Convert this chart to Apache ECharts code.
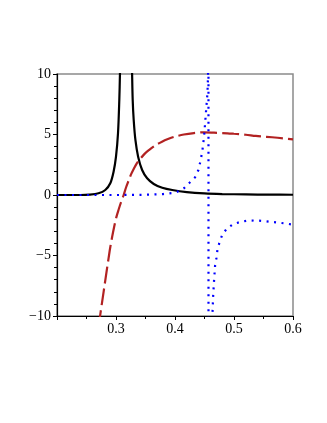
<!DOCTYPE html>
<html><head><meta charset="utf-8">
<script src="https://cdn.jsdelivr.net/npm/echarts@6/dist/echarts.min.js"></script>
<style>html,body{margin:0;padding:0;background:#fff}#c{width:327px;height:423px}</style>
</head><body><div id="c"></div>
<script>
const xTicks = [0.2, 0.3, 0.4, 0.5, 0.6];
const yTicks = [-10, -5, 0, 5, 10];

const blackX = [0.20, 0.24, 0.255, 0.2704, 0.2818, 0.2903, 0.2959, 0.300, 0.3034, 0.3056, 0.3067, 0.309, 0.317, 0.325, 0.3273, 0.3283, 0.330, 0.3329, 0.3375, 0.3443, 0.3528, 0.364, 0.3784, 0.3954, 0.42, 0.45, 0.48, 0.52, 0.56, 0.60];
const blackY = [0, 0, 0.03, 0.14, 0.41, 0.97, 1.93, 3.17, 5.1, 7.85, 10, 16, 60, 16, 10, 7.85, 6.2, 4.55, 3.17, 2.07, 1.38, 0.91, 0.6, 0.41, 0.24, 0.13, 0.08, 0.05, 0.03, 0.02];

const redX = [0.26, 0.2733, 0.279, 0.2847, 0.2875, 0.290, 0.2935, 0.297, 0.3005, 0.3045, 0.3085, 0.313, 0.317, 0.3215, 0.3255, 0.330, 0.335, 0.3414, 0.348, 0.3556, 0.366, 0.378, 0.388, 0.398, 0.415, 0.432, 0.449, 0.466, 0.489, 0.50, 0.52, 0.537, 0.555, 0.574, 0.60];
const redY = [-14.5, -9.9, -8.0, -6.1, -5.2, -4.4, -3.45, -2.6, -1.85, -1.2, -0.6, 0, 0.62, 1.2, 1.7, 2.15, 2.6, 3.0, 3.38, 3.7, 4.08, 4.4, 4.62, 4.8, 5.0, 5.12, 5.18, 5.15, 5.1, 5.06, 4.98, 4.88, 4.81, 4.73, 4.6];

const blueX = [0.20, 0.30, 0.35, 0.38, 0.395, 0.404, 0.415, 0.4237, 0.434, 0.4397, 0.4436, 0.4465, 0.4492, 0.451, 0.4527, 0.455, 0.456, 0.4567, 0.4568, 0.46, 0.4635, 0.4646, 0.4663, 0.468, 0.4703, 0.472, 0.4755, 0.48, 0.4874, 0.4987, 0.5106, 0.5232, 0.5373, 0.5504, 0.564, 0.577, 0.59, 0.60];
const blueY = [0, 0, 0.02, 0.08, 0.16, 0.27, 0.55, 0.97, 1.46, 2.07, 2.9, 3.7, 4.8, 5.9, 7.0, 8.4, 9.8, 30, -30, -14, -9.8, -8.4, -7.0, -5.8, -5.2, -4.5, -3.9, -3.3, -2.8, -2.4, -2.23, -2.12, -2.1, -2.15, -2.23, -2.29, -2.37, -2.45];

const zip = (xs, ys) => xs.map((x, i) => [x, ys[i]]);
const font = {fontFamily: "'Liberation Serif', 'DejaVu Serif', serif", fontSize: 14, color: '#000'};

const chart = echarts.init(document.getElementById('c'));
chart.setOption({
  animation: false,
  backgroundColor: '#fff',
  grid: {left: 57, right: 34, top: 74, bottom: 107, show: true, borderColor: '#8a8a8a', borderWidth: 1.5},
  xAxis: {
    type: 'value', min: xTicks[0], max: xTicks[xTicks.length - 1], interval: 0.1,
    axisLine: {onZero: false, lineStyle: {color: '#000', width: 1.2}},
    axisTick: {show: true, length: 4, lineStyle: {color: '#000'}},
    minorTick: {show: true, splitNumber: 2, length: 3, lineStyle: {color: '#000'}},
    splitLine: {show: false},
    axisLabel: Object.assign({margin: 6, formatter: v => Math.abs(v - xTicks[0]) < 1e-9 ? '' : v.toFixed(1)}, font)
  },
  yAxis: {
    type: 'value', min: yTicks[0], max: yTicks[yTicks.length - 1], interval: 5,
    axisLine: {onZero: false, lineStyle: {color: '#000', width: 1.2}},
    axisTick: {show: true, length: 4, lineStyle: {color: '#000'}},
    minorTick: {show: true, splitNumber: 5, length: 3, lineStyle: {color: '#000'}},
    splitLine: {show: false},
    axisLabel: Object.assign({margin: 6, formatter: v => v < 0 ? '\u2212' + Math.abs(v) : String(v)}, font)
  },
  series: [
    {type: 'line', data: zip(blackX, blackY), showSymbol: false, smooth: 0.3, clip: true,
     lineStyle: {color: '#000', width: 2.2}},
    {type: 'line', data: zip(redX, redY), showSymbol: false, smooth: 0.3, clip: true,
     lineStyle: {color: '#b22222', width: 2.2, type: [17, 5], cap: 'butt'}},
    {type: 'line', data: zip(blueX, blueY), showSymbol: false, smooth: false, clip: true,
     lineStyle: {color: '#0000ff', width: 2.2, type: [2, 5.5], cap: 'butt'}}
  ]
});
</script></body></html>
